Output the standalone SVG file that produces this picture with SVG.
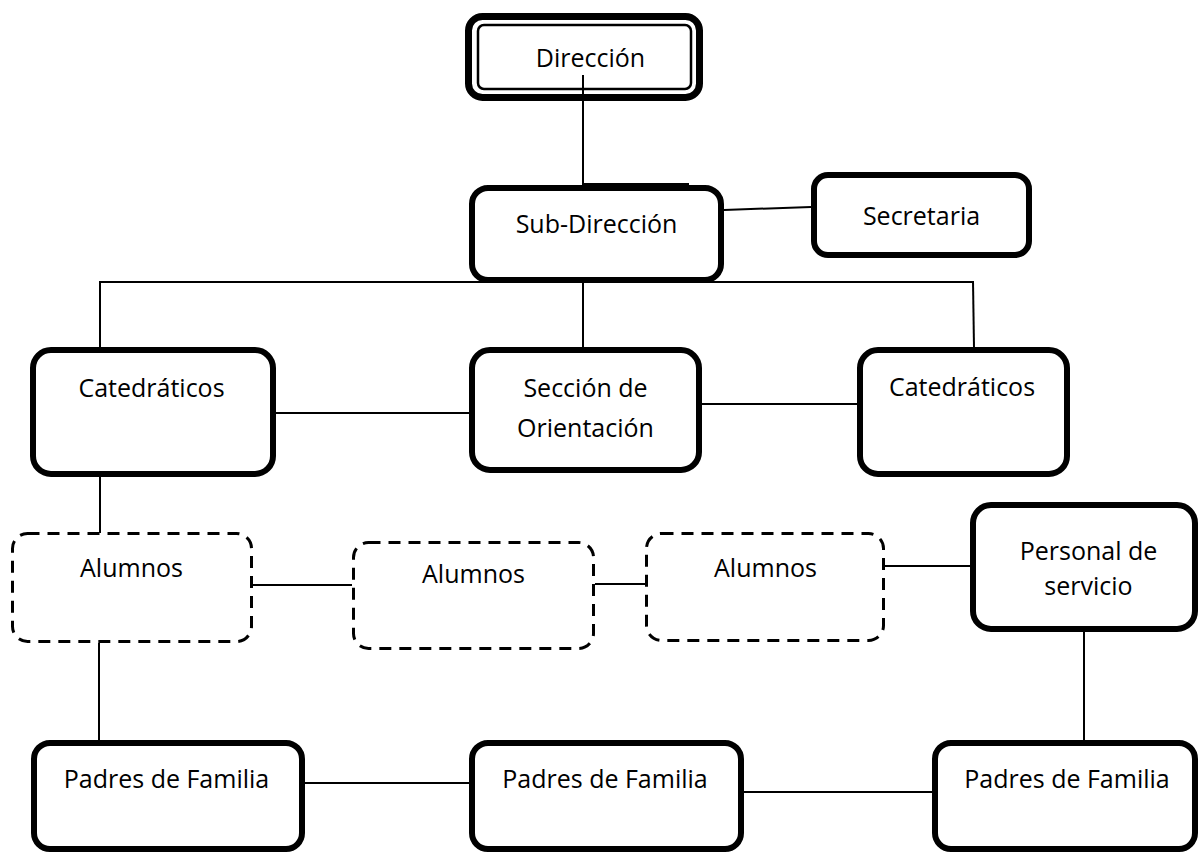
<svg xmlns="http://www.w3.org/2000/svg" width="1199" height="852" viewBox="0 0 1199 852">
<style>
.box{fill:#fff;stroke:#000;stroke-width:6}
.dash{fill:#fff;stroke:#000;stroke-width:3;stroke-dasharray:12 8}
.thin{fill:none;stroke:#000;stroke-width:2.5}
.conn line{stroke:#000;stroke-width:2}
text{font-family:"Open Sans","Noto Sans",sans-serif;font-size:25px;fill:#000;text-anchor:middle}
</style>
<rect width="1199" height="852" fill="#fff"/>
<g id="connectors" class="conn">
<line x1="583" y1="75" x2="583" y2="186"/>
<line x1="582" y1="184" x2="689" y2="184"/>
<line x1="724" y1="210" x2="811" y2="207"/>
<line x1="100" y1="282" x2="973" y2="282"/>
<line x1="100" y1="281" x2="100" y2="348"/>
<line x1="973" y1="281" x2="974" y2="348"/>
<line x1="583" y1="283" x2="583" y2="348"/>
<line x1="276" y1="413" x2="469" y2="413"/>
<line x1="702" y1="404" x2="857" y2="404"/>
<line x1="100" y1="477" x2="100" y2="533"/>
<line x1="99" y1="643" x2="99" y2="741"/>
<line x1="253" y1="585" x2="352" y2="585"/>
<line x1="595" y1="584" x2="645" y2="584"/>
<line x1="885" y1="566" x2="970" y2="566"/>
<line x1="1084" y1="632" x2="1084" y2="741"/>
<line x1="305" y1="783" x2="469" y2="783"/>
<line x1="744" y1="792" x2="932" y2="792"/>
</g>
<g id="direccion">
<rect class="box" x="468.5" y="16.5" width="231" height="81" rx="14" style="stroke-width:7"/>
<rect class="thin" x="478" y="25" width="213" height="64" rx="6"/>
<line x1="583" y1="75" x2="583" y2="94" stroke="#000" stroke-width="2"/>
<text x="590.5" y="67">Dirección</text>
</g>
<g id="subdireccion">
<rect class="box" x="472" y="188" width="249" height="92" rx="16"/>
<text x="596.5" y="233">Sub-Dirección</text>
</g>
<g id="secretaria">
<rect class="box" x="814" y="175" width="215" height="80" rx="14"/>
<text x="921.5" y="225">Secretaria</text>
</g>
<g id="catedraticos-izq">
<rect class="box" x="33" y="350" width="240" height="124" rx="18"/>
<text x="151.5" y="397">Catedráticos</text>
</g>
<g id="seccion-orientacion">
<rect class="box" x="472" y="350" width="227" height="120" rx="18"/>
<text x="585.5" y="397">Sección de</text>
<text x="585.5" y="437">Orientación</text>
</g>
<g id="catedraticos-der">
<rect class="box" x="860" y="350" width="207" height="124" rx="18"/>
<text x="962" y="396">Catedráticos</text>
</g>
<g id="alumnos-1">
<rect class="dash" x="12.5" y="533.5" width="239" height="108" rx="15"/>
<text x="131.5" y="577">Alumnos</text>
</g>
<g id="alumnos-2">
<rect class="dash" x="353.5" y="542.5" width="240" height="106" rx="15"/>
<text x="473.5" y="583">Alumnos</text>
</g>
<g id="alumnos-3">
<rect class="dash" x="646.5" y="533.5" width="237" height="107" rx="15"/>
<text x="765.5" y="577">Alumnos</text>
</g>
<g id="personal-servicio">
<rect class="box" x="973" y="505" width="222" height="124" rx="18"/>
<text x="1088.5" y="560">Personal de</text>
<text x="1088.5" y="595">servicio</text>
</g>
<g id="padres-1">
<rect class="box" x="34" y="743" width="268" height="106" rx="16"/>
<text x="166.5" y="788">Padres de Familia</text>
</g>
<g id="padres-2">
<rect class="box" x="472" y="743" width="269" height="106" rx="16"/>
<text x="605" y="788">Padres de Familia</text>
</g>
<g id="padres-3">
<rect class="box" x="935" y="743" width="260" height="106" rx="16"/>
<text x="1067" y="788">Padres de Familia</text>
</g>
</svg>
